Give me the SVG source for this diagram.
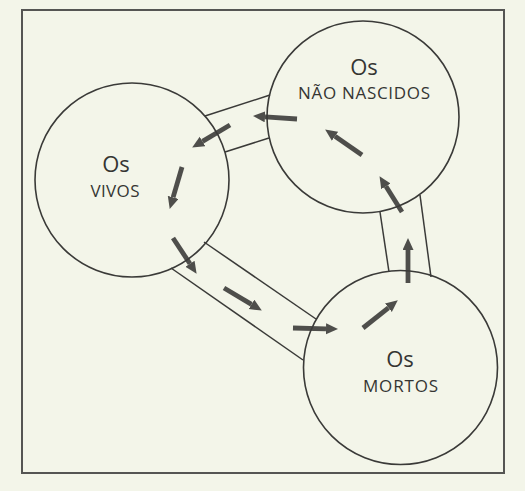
<svg xmlns="http://www.w3.org/2000/svg" width="525" height="491" viewBox="0 0 525 491">
  <style>
    .frame { fill: none; stroke: #555553; stroke-width: 2; }
    .circle { fill: none; stroke: #3a3a38; stroke-width: 1.6; }
    .band { stroke: #3a3a38; stroke-width: 1.5; fill: none; }
    .arrow { stroke: #4e4e4b; stroke-width: 4.8; fill: none; marker-end: url(#head); }
    .big { font-family: "Open Sans", "Noto Sans", sans-serif; font-size: 22px; fill: #353533; text-anchor: middle; }
    .small { font-family: "Open Sans", "Noto Sans", sans-serif; font-size: 17px; fill: #353533; text-anchor: middle; }
  </style>
  <defs>
    <marker id="head" markerUnits="userSpaceOnUse" markerWidth="13" markerHeight="12" refX="0" refY="5.5" orient="auto">
      <path d="M0,0 L12,5.5 L0,11 Z" fill="#4e4e4b"/>
    </marker>
  </defs>
  <rect x="0" y="0" width="525" height="491" fill="#f3f5e9"/>
  <rect class="frame" x="22" y="10" width="482" height="463"/>

  <g id="connectors">
    <!-- band between NAO NASCIDOS and VIVOS -->
    <line class="band" x1="205" y1="116" x2="270" y2="95"/>
    <line class="band" x1="225" y1="152" x2="269" y2="138"/>
    <!-- band between VIVOS and MORTOS -->
    <line class="band" x1="204" y1="242" x2="316" y2="319"/>
    <line class="band" x1="171" y1="268" x2="303" y2="360"/>
    <!-- band between MORTOS and NAO NASCIDOS -->
    <line class="band" x1="380" y1="212" x2="389" y2="272"/>
    <line class="band" x1="420" y1="195" x2="431" y2="277"/>

    <!-- arrows -->
    <line class="arrow" x1="297" y1="119" x2="265" y2="116.8"/>
    <line class="arrow" x1="230" y1="125" x2="202.5" y2="141.4"/>
    <line class="arrow" x1="182" y1="167" x2="173.1" y2="197.4"/>
    <line class="arrow" x1="173" y1="238" x2="190" y2="263.8"/>
    <line class="arrow" x1="224" y1="288" x2="251.5" y2="304.4"/>
    <line class="arrow" x1="293" y1="328" x2="326" y2="328.8"/>
    <line class="arrow" x1="363" y1="328" x2="388.4" y2="307.8"/>
    <line class="arrow" x1="408" y1="283" x2="408" y2="250"/>
    <line class="arrow" x1="402" y1="212" x2="385.9" y2="186.3"/>
    <line class="arrow" x1="362" y1="155" x2="335" y2="136.3"/>
  </g>

  <g id="vivos">
    <circle class="circle" cx="132" cy="180" r="97"/>
    <text class="big" x="116" y="172">Os</text>
    <text class="small" x="115" y="197" textLength="49" lengthAdjust="spacing">VIVOS</text>
  </g>

  <g id="nao-nascidos">
    <circle class="circle" cx="363" cy="117" r="96"/>
    <text class="big" x="364" y="75">Os</text>
    <text class="small" x="364" y="99" textLength="132" lengthAdjust="spacing">NÃO NASCIDOS</text>
  </g>

  <g id="mortos">
    <circle class="circle" cx="400.5" cy="367.5" r="97"/>
    <text class="big" x="400" y="367">Os</text>
    <text class="small" x="400.5" y="392" textLength="75" lengthAdjust="spacing">MORTOS</text>
  </g>
</svg>
